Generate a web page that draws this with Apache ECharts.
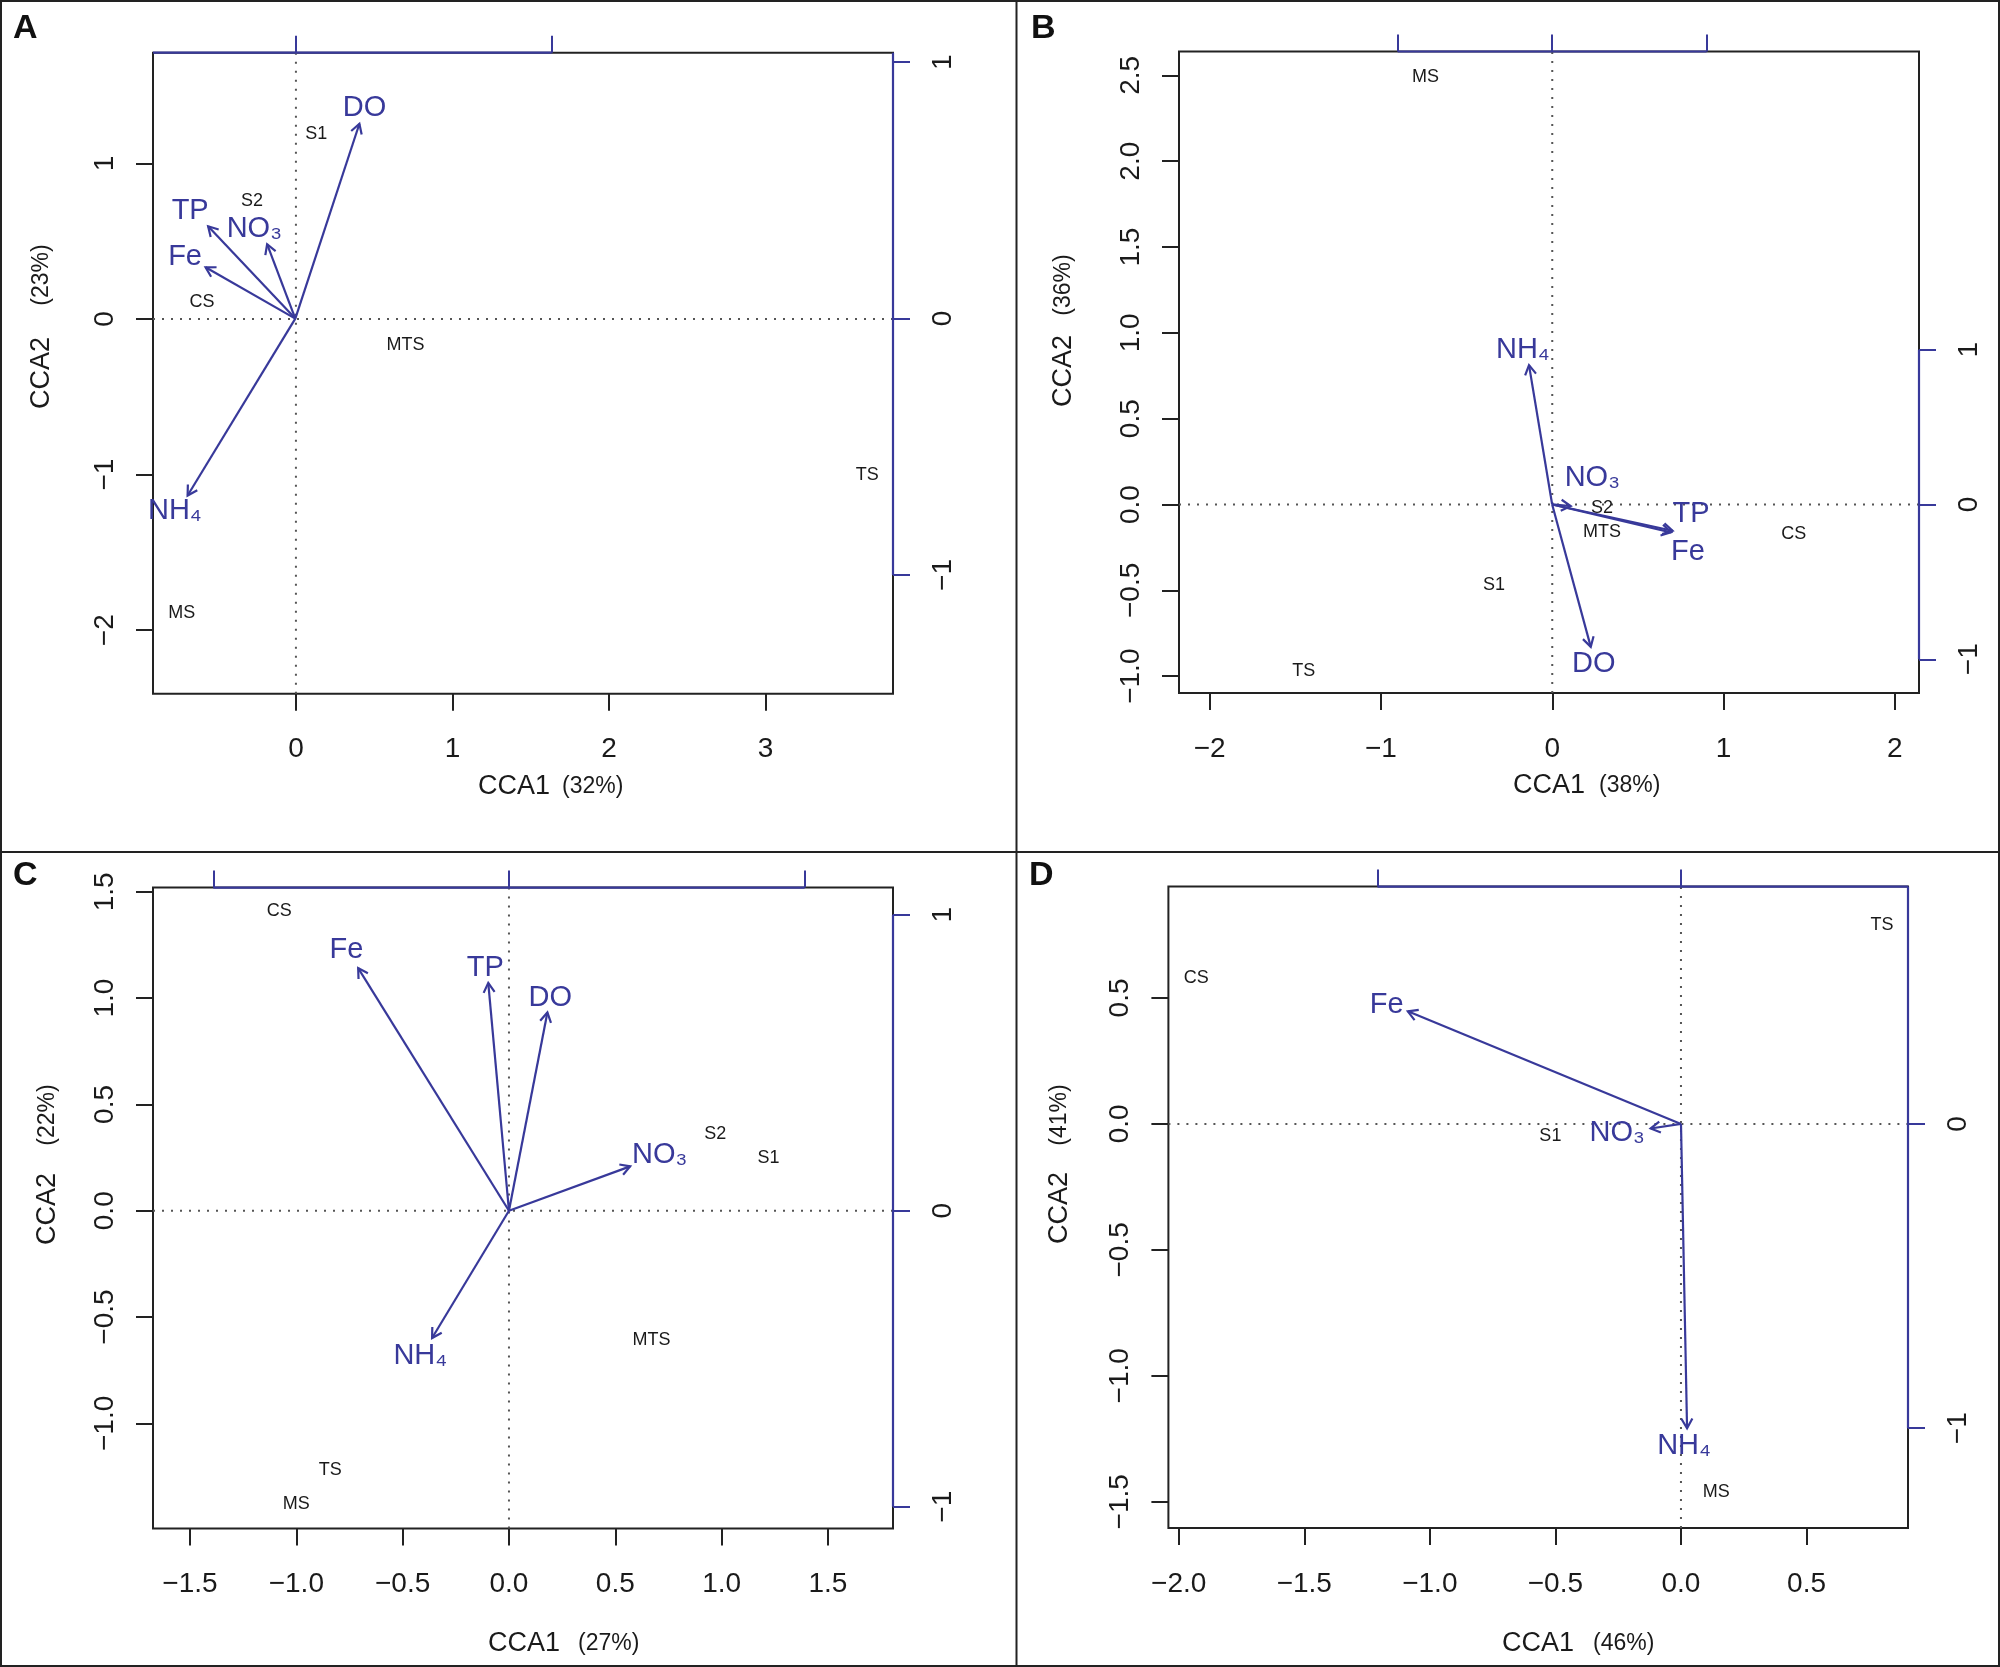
<!DOCTYPE html>
<html>
<head>
<meta charset="utf-8">
<script src="https://cdn.jsdelivr.net/npm/echarts@6/dist/echarts.min.js"></script>
<style>
  html, body { margin: 0; padding: 0; background: #fff; }
  #main { width: 2000px; height: 1667px; }
</style>
</head>
<body>
<div id="main"></div>
<script>
const FONT = '"Liberation Sans", Arial, Helvetica, sans-serif';
const BLUE = '#38399a';
const INK = '#1a1a1a';

// ---- panel A ----
const siteNamesA = ['S1', 'S2', 'CS', 'MTS', 'TS', 'MS'];
const siteXA = [0.13, -0.28, -0.60, 0.70, 3.65, -0.73];
const siteYA = [1.19, 0.76, 0.11, -0.17, -1.00, -1.89];
const envNamesA = ['DO', 'TP', 'NO₃', 'Fe', 'NH₄'];
const envXA = [0.25, -0.34, -0.11, -0.35, -0.42];
const envYA = [0.76, 0.36, 0.29, 0.20, -0.69];
const envLabelXA = [0.27, -0.41, -0.16, -0.43, -0.47];
const envLabelYA = [0.82, 0.42, 0.35, 0.24, -0.75];
const xRangeA = [-0.913, 3.814];
const yRangeA = [-2.408, 1.711];
const bxRangeA = [-0.555, 2.331];
const byRangeA = [-1.463, 1.037];
const xTicksA = [0, 1, 2, 3];
const yTicksA = [-2, -1, 0, 1];
const bxTicksA = [0, 1];
const byTicksA = [-1, 0, 1];
const topSpanA = [-1, 1];
const rightSpanA = [-1, 2];
const pctA = ['(32%)', '(23%)'];

// ---- panel B ----
const siteNamesB = ['S1', 'S2', 'CS', 'MTS', 'TS', 'MS'];
const siteXB = [-0.34, 0.29, 1.41, 0.29, -1.45, -0.74];
const siteYB = [-0.47, -0.02, -0.17, -0.16, -0.97, 2.49];
const envNamesB = ['NH₄', 'NO₃', 'TP', 'Fe', 'DO'];
const envXB = [-0.15, 0.12, 0.78, 0.77, 0.25];
const envYB = [0.90, -0.01, -0.17, -0.18, -0.92];
const envLabelXB = [-0.19, 0.26, 0.90, 0.88, 0.27];
const envLabelYB = [1.00, 0.17, -0.06, -0.31, -1.03];
const xRangeB = [-2.179, 2.141];
const yRangeB = [-1.098, 2.639];
const bxRangeB = [-2.417, 2.376];
const byRangeB = [-1.218, 2.926];
const xTicksB = [-2, -1, 0, 1, 2];
const yTicksB = [-1, -0.5, 0, 0.5, 1, 1.5, 2, 2.5];
const bxTicksB = [-1, 0, 1];
const byTicksB = [-1, 0, 1];
const topSpanB = [-1, 1];
const rightSpanB = [-1, 1];
const pctB = ['(38%)', '(36%)'];

// ---- panel C ----
const siteNamesC = ['S1', 'S2', 'CS', 'MTS', 'TS', 'MS'];
const siteXC = [1.22, 0.97, -1.08, 0.67, -0.84, -1.00];
const siteYC = [0.25, 0.36, 1.41, -0.61, -1.22, -1.38];
const envNamesC = ['Fe', 'TP', 'DO', 'NO₃', 'NH₄'];
const envXC = [-0.51, -0.07, 0.13, 0.41, -0.26];
const envYC = [0.82, 0.77, 0.67, 0.15, -0.43];
const envLabelXC = [-0.55, -0.08, 0.14, 0.51, -0.30];
const envLabelYC = [0.88, 0.82, 0.72, 0.19, -0.49];
const xRangeC = [-1.674, 1.806];
const yRangeC = [-1.495, 1.52];
const bxRangeC = [-1.204, 1.299];
const byRangeC = [-1.074, 1.092];
const xTicksC = [-1.5, -1, -0.5, 0, 0.5, 1, 1.5];
const yTicksC = [-1, -0.5, 0, 0.5, 1, 1.5];
const bxTicksC = [-1, 0, 1];
const byTicksC = [-1, 0, 1];
const topSpanC = [-1, 1];
const rightSpanC = [-1, 1];
const pctC = ['(27%)', '(22%)'];

// ---- panel D ----
const siteNamesD = ['S1', 'CS', 'TS', 'MS'];
const siteXD = [-0.52, -1.93, 0.80, 0.14];
const siteYD = [-0.05, 0.58, 0.79, -1.46];
const envNamesD = ['Fe', 'NO₃', 'NH₄'];
const envXD = [-0.90, -0.10, 0.02];
const envYD = [0.37, -0.015, -1.00];
const envLabelXD = [-0.97, -0.21, 0.01];
const envLabelYD = [0.39, -0.03, -1.06];
const xRangeD = [-2.041, 0.904];
const yRangeD = [-1.604, 0.942];
const bxRangeD = [-1.689, 0.748];
const byRangeD = [-1.328, 0.78];
const xTicksD = [-2, -1.5, -1, -0.5, 0, 0.5];
const yTicksD = [-1.5, -1, -0.5, 0, 0.5];
const bxTicksD = [-1, 0];
const byTicksD = [-1, 0];
const topSpanD = [-1, 1];
const rightSpanD = [-1, 1];
const pctD = ['(46%)', '(41%)'];

const panels = [
  { letter: 'A', dec: 0, sn: siteNamesA, sx: siteXA, sy: siteYA, en: envNamesA, ex: envXA, ey: envYA, lx: envLabelXA, ly: envLabelYA,
    xr: xRangeA, yr: yRangeA, bxr: bxRangeA, byr: byRangeA, xt: xTicksA, yt: yTicksA, bxt: bxTicksA, byt: byTicksA,
    top: topSpanA, right: rightSpanA, pct: pctA },
  { letter: 'B', dec: 1, sn: siteNamesB, sx: siteXB, sy: siteYB, en: envNamesB, ex: envXB, ey: envYB, lx: envLabelXB, ly: envLabelYB,
    xr: xRangeB, yr: yRangeB, bxr: bxRangeB, byr: byRangeB, xt: xTicksB, yt: yTicksB, bxt: bxTicksB, byt: byTicksB,
    top: topSpanB, right: rightSpanB, pct: pctB, xdec: 0 },
  { letter: 'C', dec: 1, sn: siteNamesC, sx: siteXC, sy: siteYC, en: envNamesC, ex: envXC, ey: envYC, lx: envLabelXC, ly: envLabelYC,
    xr: xRangeC, yr: yRangeC, bxr: bxRangeC, byr: byRangeC, xt: xTicksC, yt: yTicksC, bxt: bxTicksC, byt: byTicksC,
    top: topSpanC, right: rightSpanC, pct: pctC },
  { letter: 'D', dec: 1, sn: siteNamesD, sx: siteXD, sy: siteYD, en: envNamesD, ex: envXD, ey: envYD, lx: envLabelXD, ly: envLabelYD,
    xr: xRangeD, yr: yRangeD, bxr: bxRangeD, byr: byRangeD, xt: xTicksD, yt: yTicksD, bxt: bxTicksD, byt: byTicksD,
    top: topSpanD, right: rightSpanD, pct: pctD }
];

// page layout (pixels)
const layout = [
  { grid: [153, 52.7, 740, 641], letter: [13, 29], xt: [478, 562, 787], yt: [42, 373, 275] },
  { grid: [1179, 51.5, 740, 641.5], letter: [1031, 29], xt: [1513, 1599, 786], yt: [1064, 371, 285] },
  { grid: [153, 887.6, 740, 641], letter: [13, 876], xt: [488, 578, 1644], yt: [48, 1209, 1115] },
  { grid: [1168.4, 886.6, 739.6, 641.4], letter: [1029, 876], xt: [1502, 1593, 1644], yt: [1060, 1208, 1115] }
];

const fmt = (v, d) => v.toFixed(d).replace('-', '\u2212');

const grids = [], xAxes = [], yAxes = [], series = [], graphics = [];

panels.forEach((p, i) => {
  const L = layout[i];
  const xd = p.xdec !== undefined ? p.xdec : p.dec;
  grids.push({ left: L.grid[0], top: L.grid[1], width: L.grid[2], height: L.grid[3],
    show: true, borderColor: '#222', borderWidth: 2, backgroundColor: 'transparent' });

  const tick = (vals, color) => ({ show: true, length: 17, customValues: vals, lineStyle: { color: color, width: 2 } });
  const lab = (vals, d, rot, margin) => ({ show: true, customValues: vals, margin: margin, rotate: rot,
    fontSize: 28, fontFamily: FONT, color: INK, formatter: v => fmt(v, d) });
  const noLine = { show: false, onZero: false };

  xAxes.push({ gridIndex: i, type: 'value', position: 'bottom', min: p.xr[0], max: p.xr[1],
    axisLine: noLine, splitLine: { show: false },
    axisTick: tick(p.xt, '#222'), axisLabel: lab(p.xt, xd, 0, 42) });
  xAxes.push({ gridIndex: i, type: 'value', position: 'top', min: p.bxr[0], max: p.bxr[1],
    axisLine: noLine, splitLine: { show: false },
    axisTick: tick(p.bxt, BLUE), axisLabel: { show: false } });
  yAxes.push({ gridIndex: i, type: 'value', position: 'left', min: p.yr[0], max: p.yr[1],
    axisLine: noLine, splitLine: { show: false },
    axisTick: tick(p.yt, '#222'), axisLabel: lab(p.yt, p.dec, 90, 34) });
  yAxes.push({ gridIndex: i, type: 'value', position: 'right', min: p.byr[0], max: p.byr[1],
    axisLine: noLine, splitLine: { show: false },
    axisTick: tick(p.byt, BLUE), axisLabel: lab(p.byt, 0, 90, 36) });

  const sx = 2 * i, bx = 2 * i + 1;

  // dotted zero lines
  series.push({
    type: 'custom', xAxisIndex: sx, yAxisIndex: sx, data: [[0, 0]], z: 2, silent: true,
    renderItem: (params, api) => {
      const a = api.coord([0, p.yr[0]]), b = api.coord([0, p.yr[1]]);
      const c = api.coord([p.xr[0], 0]), d = api.coord([p.xr[1], 0]);
      const st = { stroke: '#555', lineWidth: 2, lineDash: [2, 7] };
      return { type: 'group', children: [
        { type: 'line', shape: { x1: a[0], y1: a[1], x2: b[0], y2: b[1] }, style: st },
        { type: 'line', shape: { x1: c[0], y1: c[1], x2: d[0], y2: d[1] }, style: st }
      ] };
    }
  });

  // site labels
  series.push({
    type: 'custom', xAxisIndex: sx, yAxisIndex: sx, z: 4, silent: true,
    data: p.sx.map((v, k) => [v, p.sy[k]]),
    renderItem: (params, api) => {
      const c = api.coord([api.value(0), api.value(1)]);
      return { type: 'text', x: c[0], y: c[1], style: { text: p.sn[params.dataIndex], fill: INK,
        fontSize: 18, fontFamily: FONT, align: 'center', verticalAlign: 'middle' } };
    }
  });

  // biplot arrows
  series.push({
    type: 'custom', xAxisIndex: bx, yAxisIndex: bx, z: 5, silent: true,
    data: p.ex.map((v, k) => [v, p.ey[k], p.lx[k], p.ly[k]]),
    renderItem: (params, api) => {
      const o = api.coord([0, 0]);
      const t = api.coord([api.value(0), api.value(1)]);
      const l = api.coord([api.value(2), api.value(3)]);
      const ang = Math.atan2(t[1] - o[1], t[0] - o[0]);
      const h = 11, w = Math.PI / 6;
      const st = { stroke: BLUE, lineWidth: 2.2, fill: 'none' };
      return { type: 'group', children: [
        { type: 'line', shape: { x1: o[0], y1: o[1], x2: t[0], y2: t[1] }, style: st },
        { type: 'polyline', shape: { points: [
          [t[0] - h * Math.cos(ang - w), t[1] - h * Math.sin(ang - w)], t,
          [t[0] - h * Math.cos(ang + w), t[1] - h * Math.sin(ang + w)] ] }, style: st },
        { type: 'text', x: l[0], y: l[1], style: { text: p.en[params.dataIndex], fill: BLUE,
          fontSize: 29, fontFamily: FONT, align: 'center', verticalAlign: 'middle' } }
      ] };
    }
  });

  // blue biplot axis lines along top and right
  series.push({
    type: 'custom', xAxisIndex: bx, yAxisIndex: bx, data: [[0, 0]], z: 6, silent: true,
    renderItem: (params, api) => {
      const t0 = api.coord([Math.max(p.top[0], p.bxr[0]), p.byr[1]]);
      const t1 = api.coord([Math.min(p.top[1], p.bxr[1]), p.byr[1]]);
      const r0 = api.coord([p.bxr[1], Math.max(p.right[0], p.byr[0])]);
      const r1 = api.coord([p.bxr[1], Math.min(p.right[1], p.byr[1])]);
      const st = { stroke: BLUE, lineWidth: 2.2 };
      return { type: 'group', children: [
        { type: 'line', shape: { x1: t0[0], y1: t0[1], x2: t1[0], y2: t1[1] }, style: st },
        { type: 'line', shape: { x1: r0[0], y1: r0[1], x2: r1[0], y2: r1[1] }, style: st }
      ] };
    }
  });

  // panel letter and axis titles
  graphics.push({ type: 'text', left: L.letter[0], top: L.letter[1] - 17,
    style: { text: p.letter, fontSize: 34, fontWeight: 'bold', fontFamily: FONT, fill: '#111' } });
  graphics.push({ type: 'text', x: L.xt[0], y: L.xt[2],
    style: { text: 'CCA1', fontSize: 27, fontFamily: FONT, fill: INK, align: 'left', verticalAlign: 'middle' } });
  graphics.push({ type: 'text', x: L.xt[1], y: L.xt[2],
    style: { text: p.pct[0], fontSize: 23, fontFamily: FONT, fill: INK, align: 'left', verticalAlign: 'middle' } });
  graphics.push({ type: 'text', x: L.yt[0], y: L.yt[1], rotation: Math.PI / 2,
    style: { text: 'CCA2', fontSize: 27, fontFamily: FONT, fill: INK, align: 'center', verticalAlign: 'middle' } });
  graphics.push({ type: 'text', x: L.yt[0], y: L.yt[2], rotation: Math.PI / 2,
    style: { text: p.pct[1], fontSize: 23, fontFamily: FONT, fill: INK, align: 'center', verticalAlign: 'middle' } });
});

// outer frame and panel dividers
graphics.push({ type: 'rect', shape: { x: 1, y: 1, width: 1998, height: 1665 }, style: { fill: 'none', stroke: '#222', lineWidth: 2 } });
graphics.push({ type: 'line', shape: { x1: 1016.5, y1: 0, x2: 1016.5, y2: 1667 }, style: { stroke: '#222', lineWidth: 2 } });
graphics.push({ type: 'line', shape: { x1: 0, y1: 852, x2: 2000, y2: 852 }, style: { stroke: '#222', lineWidth: 2 } });

const chart = echarts.init(document.getElementById('main'));
chart.setOption({
  backgroundColor: '#fff',
  animation: false,
  grid: grids,
  xAxis: xAxes,
  yAxis: yAxes,
  series: series,
  graphic: graphics
});
</script>
</body>
</html>
